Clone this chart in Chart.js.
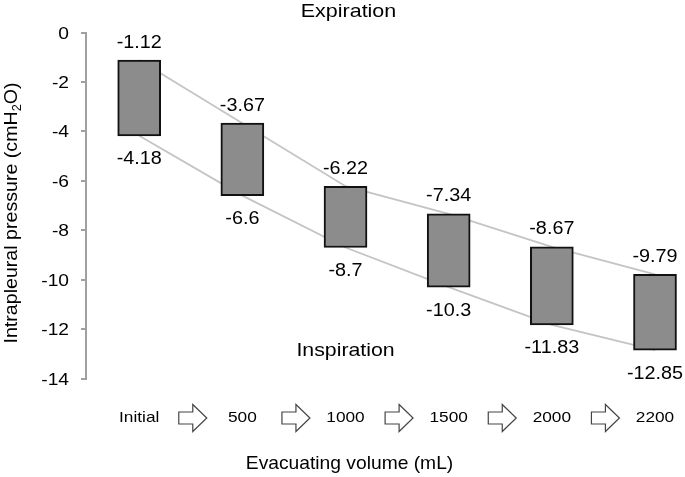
<!DOCTYPE html>
<html>
<head>
<meta charset="utf-8">
<script src="https://cdn.jsdelivr.net/npm/chart.js@4"></script>
<style>
  body { margin: 0; background: #fff; }
  #wrap { width: 685px; height: 477px; position: relative; }
</style>
</head>
<body>
<div id="wrap"><canvas id="myChart"></canvas></div>
<script>
// data
const categories = ['Initial', '500', '1000', '1500', '2000', '2200'];
const expiration = [-1.12, -3.67, -6.22, -7.34, -8.67, -9.79];
const inspiration = [-4.18, -6.6, -8.7, -10.3, -11.83, -12.85];
const yTicks = [0, -2, -4, -6, -8, -10, -12, -14];

const FONT = "'Liberation Sans', Arial, sans-serif";
Chart.defaults.font.family = FONT;
Chart.defaults.color = '#000';

// text with a slight horizontal stretch; y is the centre of the capitals
function txt(c, s, x, y, size, sx, align) {
  c.save();
  c.translate(x, y + size * 0.358);
  c.scale(sx, 1);
  c.font = size + 'px ' + FONT;
  c.textAlign = align || 'center';
  c.textBaseline = 'alphabetic';
  c.fillStyle = '#000';
  c.fillText(s, 0, 0);
  c.restore();
}

// Start custom drawing (labels, arrows, titles)
const extras = {
  id: 'extras',
  afterDatasetsDraw(chart) {
    const c = chart.ctx;
    const xs = chart.scales.x;
    const ys = chart.scales.y;

    // y tick labels
    yTicks.forEach(function(v) {
      txt(c, String(v), 69, ys.getPixelForValue(v), 17, 1.13, 'right');
    });

    // value labels and category labels
    categories.forEach(function(cat, i) {
      const x = xs.getPixelForValue(i);
      txt(c, String(expiration[i]), x, ys.getPixelForValue(expiration[i]) - 19, 18, 1.1);
      txt(c, String(inspiration[i]), x, ys.getPixelForValue(inspiration[i]) + 22, 18, 1.1);
      txt(c, cat, x, 416.5, 15, 1.15);
    });

    // arrows between categories
    c.save();
    c.strokeStyle = '#444';
    c.lineWidth = 1.2;
    c.fillStyle = '#fff';
    for (let i = 0; i < categories.length - 1; i++) {
      const cx = xs.getPixelForValue(i + 0.5) + 2;
      const cy = 418;
      c.beginPath();
      c.moveTo(cx - 14, cy - 6);
      c.lineTo(cx, cy - 6);
      c.lineTo(cx, cy - 13.5);
      c.lineTo(cx + 14, cy);
      c.lineTo(cx, cy + 13.5);
      c.lineTo(cx, cy + 6);
      c.lineTo(cx - 14, cy + 6);
      c.closePath();
      c.fill();
      c.stroke();
    }
    c.restore();

    // titles
    const mid = xs.getPixelForValue(2);
    txt(c, 'Expiration', mid + 3, 10.5, 18.5, 1.16);
    txt(c, 'Inspiration', mid, 349, 18.5, 1.15);
    txt(c, 'Evacuating volume (mL)', mid + 4, 462.5, 18.5, 1.04);

    // y title with subscript
    c.save();
    const ty = 213;
    c.translate(17, ty);
    c.rotate(-Math.PI / 2);
    c.scale(1.06, 1);
    const big = '18.5px ' + FONT;
    const small = '12px ' + FONT;
    const p1 = 'Intrapleural pressure (cmH';
    const p2 = '2';
    const p3 = 'O)';
    c.font = big; const w1 = c.measureText(p1).width; const w3 = c.measureText(p3).width;
    c.font = small; const w2 = c.measureText(p2).width;
    let sx = -(w1 + w2 + w3) / 2;
    c.fillStyle = '#000';
    c.textAlign = 'left';
    c.textBaseline = 'alphabetic';
    c.font = big; c.fillText(p1, sx, 0); sx += w1;
    c.font = small; c.fillText(p2, sx, 4); sx += w2;
    c.font = big; c.fillText(p3, sx, 0);
    c.restore();
  }
};

const ctx = document.getElementById('myChart');

new Chart(ctx, {
  data: {
    datasets: [
      {
        type: 'bar',
        data: categories.map(function(c, i) { return {x: i, y: [inspiration[i], expiration[i]]}; }),
        backgroundColor: '#8c8c8c',
        borderColor: '#111',
        borderWidth: 2,
        borderSkipped: false,
        barThickness: 43,
        order: 0
      },
      {
        type: 'line',
        data: categories.map(function(c, i) { return {x: i, y: expiration[i]}; }),
        borderColor: '#c4c4c4',
        borderWidth: 1.8,
        pointRadius: 0,
        order: 1
      },
      {
        type: 'line',
        data: categories.map(function(c, i) { return {x: i, y: inspiration[i]}; }),
        borderColor: '#c4c4c4',
        borderWidth: 1.8,
        pointRadius: 0,
        order: 1
      }
    ]
  },
  options: {
    responsive: true,
    maintainAspectRatio: false,
    animation: false,
    layout: { padding: { top: 32.5, right: 0, left: 0, bottom: 0 } },
    plugins: { legend: { display: false }, tooltip: { enabled: false } },
    scales: {
      x: {
        type: 'linear',
        offset: false,
        min: -0.5157,
        max: 5.2908,
        grid: { display: false, drawTicks: false },
        border: { display: false },
        afterBuildTicks: function(s) { s.ticks = categories.map(function(c, i) { return {value: i}; }); },
        afterFit: function(s) { s.height = 98.5; },
        ticks: { display: false }
      },
      y: {
        min: -14,
        max: 0,
        afterBuildTicks: function(s) { s.ticks = yTicks.map(function(v) { return {value: v}; }); },
        afterFit: function(s) { s.width = 86; },
        grid: { display: true, drawOnChartArea: false, color: '#a0a0a0', tickLength: 5, lineWidth: 2 },
        border: { color: '#a0a0a0', width: 2 },
        ticks: { display: false }
      }
    }
  },
  plugins: [extras]
});
</script>
</body>
</html>
